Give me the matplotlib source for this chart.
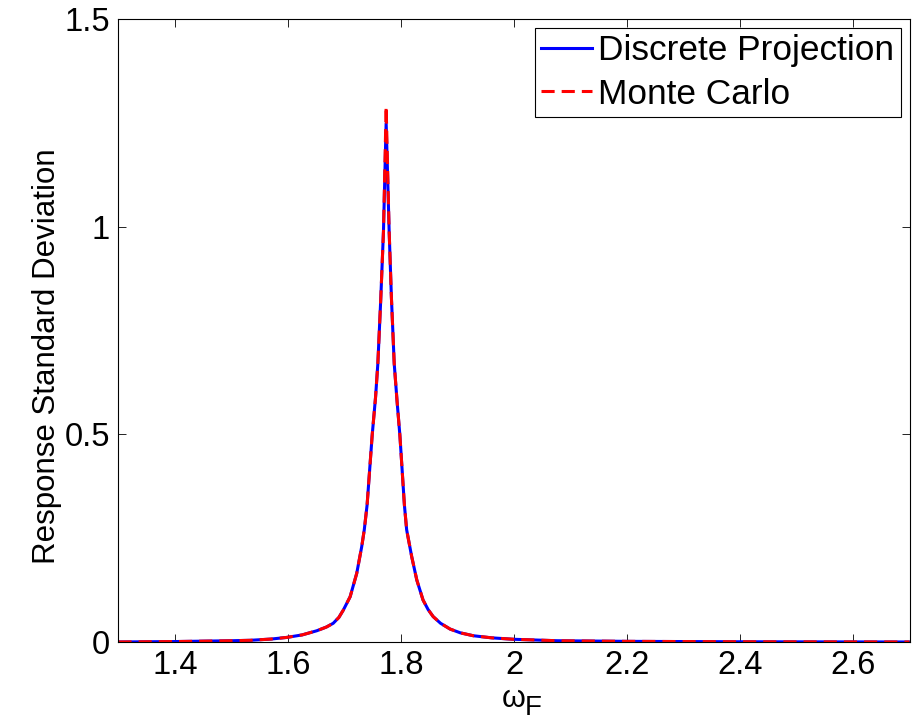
import matplotlib

matplotlib.use("Agg")
import matplotlib.pyplot as plt

plt.rcParams["font.family"] = ["Liberation Sans", "DejaVu Sans"]

# forcing frequency and response standard deviation
omega = [1.300, 1.400, 1.450, 1.500, 1.533, 1.570, 1.598, 1.625, 1.651, 1.668,
         1.680, 1.690, 1.698, 1.710, 1.7216, 1.7304, 1.735, 1.740, 1.749, 1.755,
         1.759, 1.764, 1.769, 1.7737, 1.779, 1.783, 1.788, 1.793, 1.798, 1.806,
         1.810, 1.819, 1.828, 1.839, 1.848, 1.857, 1.870, 1.887, 1.905, 1.928,
         1.960, 1.999, 2.076, 2.200, 2.400, 2.700]
std_projection = [0.000, 0.001, 0.002, 0.003, 0.004, 0.007, 0.011, 0.017, 0.027, 0.036,
                  0.045, 0.059, 0.077, 0.109, 0.165, 0.229, 0.270, 0.330, 0.498, 0.590,
                  0.670, 0.820, 0.990, 1.250, 0.990, 0.830, 0.670, 0.580, 0.498, 0.330,
                  0.270, 0.205, 0.149, 0.101, 0.078, 0.061, 0.045, 0.031, 0.022, 0.015,
                  0.010, 0.0065, 0.003, 0.0015, 0.0005, 0.000]
std_monte_carlo = [0.000, 0.001, 0.002, 0.003, 0.004, 0.007, 0.011, 0.017, 0.027, 0.036,
                   0.045, 0.059, 0.077, 0.109, 0.165, 0.229, 0.270, 0.330, 0.498, 0.590,
                   0.670, 0.820, 0.990, 1.290, 0.990, 0.830, 0.670, 0.580, 0.498, 0.330,
                   0.270, 0.205, 0.149, 0.101, 0.078, 0.061, 0.045, 0.031, 0.022, 0.015,
                   0.010, 0.0065, 0.003, 0.0015, 0.0005, 0.000]

xticks = [1.4, 1.6, 1.8, 2.0, 2.2, 2.4, 2.6]
xtick_labels = ["1.4", "1.6", "1.8", "2", "2.2", "2.4", "2.6"]
yticks = [0, 0.5, 1.0, 1.5]
ytick_labels = ["0", "0.5", "1", "1.5"]

fig = plt.figure(figsize=(9.2, 7.24), dpi=100)
ax = fig.add_axes([0.1288, 0.1133, 0.8598, 0.8605])

ax.plot(omega, std_projection, color="#0000ff", lw=2.2, label="Discrete Projection")
ax.plot(omega, std_monte_carlo, color="#ff0000", lw=2.2, dashes=(4.3, 2.3),
        label="Monte Carlo")

ax.set_xlim(1.3, 2.7)
ax.set_ylim(0, 1.5)
ax.set_xticks(xticks, xtick_labels)
ax.set_yticks(yticks, ytick_labels)
ax.tick_params(direction="in", top=True, right=True, length=5.5, width=0.6,
               labelsize=23.5, pad=6)
for sp in ax.spines.values():
    sp.set_linewidth(0.8)

ax.set_ylabel("Response Standard Deviation", fontsize=22.5)
ax.yaxis.set_label_coords(-0.072, 0.459)

ax.set_xlabel("ω", fontsize=22, labelpad=2)
ax.annotate("F", xy=(1, 0), xycoords=ax.xaxis.label, xytext=(-0.5, -5),
            textcoords="offset points", fontsize=20, va="bottom", ha="left")

leg = ax.legend(loc="upper right", fontsize=25.4, frameon=True, fancybox=False,
                framealpha=1, edgecolor="black", handlelength=1.45,
                handletextpad=0.17, labelspacing=0.3, borderpad=0.18,
                borderaxespad=0.25)
leg.get_frame().set_linewidth(0.8)

fig.savefig("out.png", dpi=100)
